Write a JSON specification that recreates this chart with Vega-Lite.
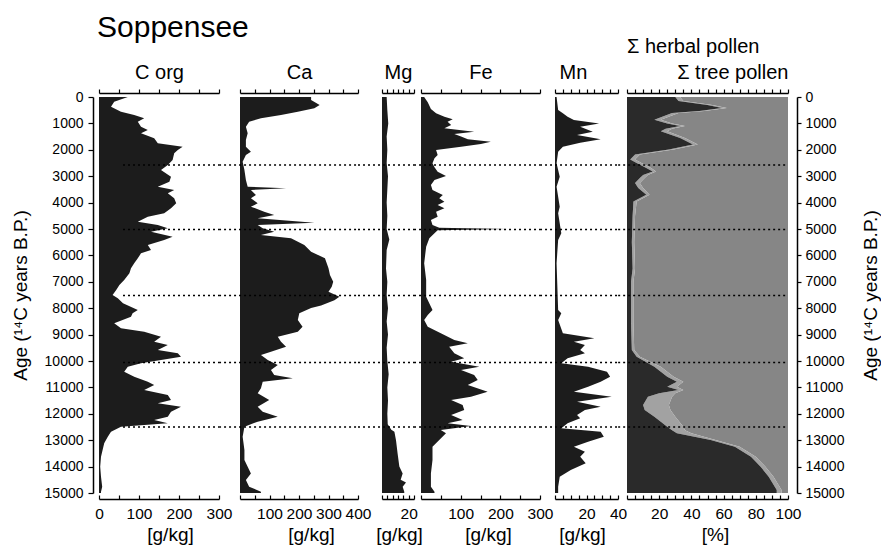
{
  "$schema": "https://vega.github.io/schema/vega-lite/v6.json",
  "padding": {"left": 11, "top": 13, "right": 0, "bottom": 0},
  "background": "white",
  "config": {
    "font": "Liberation Sans",
    "view": {"stroke": null},
    "axis": {"domainColor": "black", "tickColor": "black", "labelColor": "black", "titleColor": "black", "titleFontWeight": "normal", "grid": false, "labelFont": "Liberation Sans", "titleFont": "Liberation Sans", "domainWidth": 1.5, "tickWidth": 1.2, "labelOverlap": false, "labelFlush": false},
    "title": {"fontWeight": "normal", "color": "black", "font": "Liberation Sans"}
  },
  "datasets": {
    "lines": [{"age": 2580}, {"age": 5020}, {"age": 7520}, {"age": 10060}, {"age": 12500}],
    "corg": [
      {"age": 0, "v": 72}, {"age": 177, "v": 38}, {"age": 366, "v": 30}, {"age": 556, "v": 55}, {"age": 682, "v": 88}, {"age": 808, "v": 113}, {"age": 934, "v": 97}, {"age": 1124, "v": 105}, {"age": 1250, "v": 122}, {"age": 1376, "v": 105}, {"age": 1566, "v": 138}, {"age": 1755, "v": 147}, {"age": 1881, "v": 209}, {"age": 2008, "v": 197}, {"age": 2134, "v": 188}, {"age": 2386, "v": 184}, {"age": 2576, "v": 172}, {"age": 2765, "v": 155}, {"age": 3018, "v": 180}, {"age": 3207, "v": 176}, {"age": 3396, "v": 147}, {"age": 3523, "v": 188}, {"age": 3649, "v": 172}, {"age": 3838, "v": 188}, {"age": 4028, "v": 193}, {"age": 4217, "v": 180}, {"age": 4407, "v": 163}, {"age": 4533, "v": 122}, {"age": 4722, "v": 97}, {"age": 4849, "v": 147}, {"age": 4975, "v": 172}, {"age": 5101, "v": 130}, {"age": 5290, "v": 184}, {"age": 5417, "v": 163}, {"age": 5606, "v": 122}, {"age": 5795, "v": 130}, {"age": 5922, "v": 105}, {"age": 6111, "v": 97}, {"age": 6300, "v": 88}, {"age": 6490, "v": 80}, {"age": 6679, "v": 76}, {"age": 6932, "v": 63}, {"age": 7121, "v": 51}, {"age": 7311, "v": 43}, {"age": 7500, "v": 34}, {"age": 7626, "v": 47}, {"age": 7816, "v": 60}, {"age": 8068, "v": 97}, {"age": 8194, "v": 84}, {"age": 8321, "v": 80}, {"age": 8573, "v": 38}, {"age": 8762, "v": 55}, {"age": 8888, "v": 113}, {"age": 9078, "v": 155}, {"age": 9268, "v": 138}, {"age": 9394, "v": 172}, {"age": 9583, "v": 147}, {"age": 9710, "v": 197}, {"age": 9836, "v": 205}, {"age": 9962, "v": 155}, {"age": 10089, "v": 105}, {"age": 10215, "v": 72}, {"age": 10404, "v": 63}, {"age": 10594, "v": 88}, {"age": 10783, "v": 122}, {"age": 10909, "v": 138}, {"age": 11099, "v": 113}, {"age": 11288, "v": 172}, {"age": 11477, "v": 180}, {"age": 11604, "v": 147}, {"age": 11730, "v": 205}, {"age": 11920, "v": 180}, {"age": 12109, "v": 172}, {"age": 12235, "v": 138}, {"age": 12362, "v": 172}, {"age": 12488, "v": 55}, {"age": 12678, "v": 30}, {"age": 12867, "v": 22}, {"age": 13120, "v": 13}, {"age": 13625, "v": 5}, {"age": 14004, "v": 3}, {"age": 14383, "v": 5}, {"age": 14761, "v": 8}, {"age": 14950, "v": 5}, {"age": 15000, "v": 5}
    ],
    "ca": [
      {"age": 0, "v": 241}, {"age": 114, "v": 241}, {"age": 303, "v": 270}, {"age": 429, "v": 252}, {"age": 556, "v": 196}, {"age": 682, "v": 139}, {"age": 808, "v": 71}, {"age": 934, "v": 31}, {"age": 1124, "v": 20}, {"age": 1376, "v": 26}, {"age": 1629, "v": 20}, {"age": 1881, "v": 20}, {"age": 2071, "v": 37}, {"age": 2197, "v": 20}, {"age": 2449, "v": 9}, {"age": 2765, "v": 15}, {"age": 3144, "v": 20}, {"age": 3396, "v": 26}, {"age": 3460, "v": 156}, {"age": 3523, "v": 37}, {"age": 3712, "v": 54}, {"age": 3838, "v": 37}, {"age": 4028, "v": 60}, {"age": 4154, "v": 37}, {"age": 4343, "v": 82}, {"age": 4470, "v": 116}, {"age": 4596, "v": 60}, {"age": 4765, "v": 252}, {"age": 4849, "v": 60}, {"age": 4975, "v": 77}, {"age": 5101, "v": 116}, {"age": 5227, "v": 71}, {"age": 5354, "v": 173}, {"age": 5606, "v": 218}, {"age": 5858, "v": 241}, {"age": 6111, "v": 288}, {"age": 6300, "v": 294}, {"age": 6490, "v": 300}, {"age": 6742, "v": 305}, {"age": 6995, "v": 316}, {"age": 7184, "v": 311}, {"age": 7374, "v": 300}, {"age": 7563, "v": 337}, {"age": 7700, "v": 320}, {"age": 7900, "v": 275}, {"age": 7990, "v": 241}, {"age": 8195, "v": 201}, {"age": 8447, "v": 196}, {"age": 8700, "v": 212}, {"age": 8890, "v": 196}, {"age": 9080, "v": 128}, {"age": 9270, "v": 139}, {"age": 9460, "v": 156}, {"age": 9650, "v": 105}, {"age": 9776, "v": 71}, {"age": 9962, "v": 94}, {"age": 10153, "v": 128}, {"age": 10342, "v": 105}, {"age": 10531, "v": 116}, {"age": 10657, "v": 179}, {"age": 10783, "v": 77}, {"age": 11036, "v": 71}, {"age": 11225, "v": 60}, {"age": 11478, "v": 99}, {"age": 11730, "v": 60}, {"age": 11920, "v": 77}, {"age": 12109, "v": 128}, {"age": 12298, "v": 60}, {"age": 12488, "v": 15}, {"age": 12867, "v": 9}, {"age": 13372, "v": 15}, {"age": 13750, "v": 15}, {"age": 14257, "v": 37}, {"age": 14509, "v": 20}, {"age": 14761, "v": 31}, {"age": 14950, "v": 71}, {"age": 15000, "v": 71}
    ],
    "mg": [
      {"age": 0, "v": 3.5}, {"age": 500, "v": 4}, {"age": 1000, "v": 4.7}, {"age": 1500, "v": 3.5}, {"age": 2000, "v": 4}, {"age": 2500, "v": 3.5}, {"age": 3000, "v": 4.5}, {"age": 3500, "v": 4}, {"age": 4000, "v": 3.5}, {"age": 4500, "v": 4}, {"age": 5000, "v": 3.5}, {"age": 5400, "v": 5.5}, {"age": 5800, "v": 3.5}, {"age": 6500, "v": 3}, {"age": 7000, "v": 4}, {"age": 7500, "v": 3.5}, {"age": 8000, "v": 4.5}, {"age": 8500, "v": 3.5}, {"age": 9000, "v": 4.5}, {"age": 9500, "v": 3.5}, {"age": 10000, "v": 4}, {"age": 10500, "v": 5}, {"age": 11000, "v": 4}, {"age": 11500, "v": 4.5}, {"age": 12000, "v": 4}, {"age": 12400, "v": 4.3}, {"age": 12600, "v": 7}, {"age": 12680, "v": 9.3}, {"age": 13000, "v": 10.5}, {"age": 13500, "v": 11.7}, {"age": 14000, "v": 13}, {"age": 14257, "v": 15.5}, {"age": 14500, "v": 14}, {"age": 14600, "v": 18}, {"age": 14761, "v": 15.5}, {"age": 14950, "v": 16.7}, {"age": 15000, "v": 16.7}
    ],
    "fe": [
      {"age": 0, "v": 8}, {"age": 200, "v": 17}, {"age": 450, "v": 25}, {"age": 620, "v": 38}, {"age": 750, "v": 59}, {"age": 845, "v": 80}, {"age": 934, "v": 67}, {"age": 1060, "v": 76}, {"age": 1187, "v": 59}, {"age": 1313, "v": 134}, {"age": 1400, "v": 84}, {"age": 1500, "v": 101}, {"age": 1600, "v": 118}, {"age": 1692, "v": 176}, {"age": 1780, "v": 151}, {"age": 1881, "v": 101}, {"age": 2008, "v": 38}, {"age": 2197, "v": 42}, {"age": 2323, "v": 34}, {"age": 2512, "v": 29}, {"age": 2664, "v": 34}, {"age": 2828, "v": 42}, {"age": 2990, "v": 63}, {"age": 3144, "v": 34}, {"age": 3333, "v": 25}, {"age": 3523, "v": 29}, {"age": 3712, "v": 55}, {"age": 3838, "v": 46}, {"age": 3964, "v": 59}, {"age": 4091, "v": 42}, {"age": 4217, "v": 59}, {"age": 4343, "v": 38}, {"age": 4533, "v": 42}, {"age": 4659, "v": 25}, {"age": 4849, "v": 29}, {"age": 4950, "v": 46}, {"age": 5000, "v": 218}, {"age": 5050, "v": 42}, {"age": 5164, "v": 34}, {"age": 5354, "v": 21}, {"age": 5669, "v": 13}, {"age": 6300, "v": 8}, {"age": 6932, "v": 13}, {"age": 7563, "v": 13}, {"age": 8068, "v": 29}, {"age": 8257, "v": 17}, {"age": 8447, "v": 8}, {"age": 8700, "v": 17}, {"age": 8952, "v": 50}, {"age": 9205, "v": 84}, {"age": 9331, "v": 118}, {"age": 9457, "v": 71}, {"age": 9710, "v": 84}, {"age": 9900, "v": 109}, {"age": 10025, "v": 76}, {"age": 10215, "v": 147}, {"age": 10342, "v": 101}, {"age": 10531, "v": 134}, {"age": 10720, "v": 143}, {"age": 10909, "v": 118}, {"age": 11162, "v": 168}, {"age": 11351, "v": 126}, {"age": 11477, "v": 76}, {"age": 11667, "v": 105}, {"age": 11856, "v": 109}, {"age": 12046, "v": 76}, {"age": 12235, "v": 105}, {"age": 12362, "v": 67}, {"age": 12462, "v": 126}, {"age": 12614, "v": 50}, {"age": 12740, "v": 63}, {"age": 12993, "v": 46}, {"age": 13246, "v": 29}, {"age": 13750, "v": 29}, {"age": 14257, "v": 25}, {"age": 14761, "v": 25}, {"age": 14950, "v": 34}, {"age": 15000, "v": 34}
    ],
    "mn": [
      {"age": 0, "v": 1}, {"age": 492, "v": 2}, {"age": 620, "v": 5}, {"age": 745, "v": 8}, {"age": 871, "v": 12}, {"age": 1000, "v": 28}, {"age": 1124, "v": 16}, {"age": 1313, "v": 24}, {"age": 1440, "v": 14}, {"age": 1600, "v": 29}, {"age": 1730, "v": 16}, {"age": 1881, "v": 5}, {"age": 2071, "v": 2}, {"age": 2513, "v": 1}, {"age": 3018, "v": 3}, {"age": 3396, "v": 1}, {"age": 4154, "v": 3}, {"age": 4407, "v": 2}, {"age": 5164, "v": 4}, {"age": 5417, "v": 2}, {"age": 6300, "v": 1}, {"age": 8068, "v": 2}, {"age": 8194, "v": 4}, {"age": 8447, "v": 2}, {"age": 8952, "v": 5}, {"age": 9140, "v": 25}, {"age": 9268, "v": 12}, {"age": 9394, "v": 19}, {"age": 9583, "v": 16}, {"age": 9710, "v": 19}, {"age": 9900, "v": 8}, {"age": 10089, "v": 4}, {"age": 10215, "v": 21}, {"age": 10404, "v": 33}, {"age": 10594, "v": 35}, {"age": 10783, "v": 29}, {"age": 10973, "v": 21}, {"age": 11162, "v": 12}, {"age": 11351, "v": 36}, {"age": 11540, "v": 14}, {"age": 11730, "v": 29}, {"age": 11857, "v": 19}, {"age": 12046, "v": 14}, {"age": 12172, "v": 16}, {"age": 12362, "v": 8}, {"age": 12551, "v": 4}, {"age": 12678, "v": 29}, {"age": 12867, "v": 31}, {"age": 13057, "v": 21}, {"age": 13246, "v": 12}, {"age": 13436, "v": 19}, {"age": 13625, "v": 16}, {"age": 13877, "v": 19.5}, {"age": 14130, "v": 10}, {"age": 14383, "v": 3}, {"age": 14761, "v": 2}, {"age": 14950, "v": 2}, {"age": 15000, "v": 2}
    ],
    "pollen": [
      {"age": 0, "h": 30, "t": 33}, {"age": 150, "h": 32, "t": 35}, {"age": 300, "h": 50, "t": 53}, {"age": 420, "h": 59, "t": 62}, {"age": 530, "h": 45, "t": 48}, {"age": 606, "h": 28, "t": 32}, {"age": 860, "h": 17, "t": 21}, {"age": 1000, "h": 25, "t": 28}, {"age": 1100, "h": 33, "t": 36}, {"age": 1200, "h": 24, "t": 28}, {"age": 1300, "h": 21, "t": 25}, {"age": 1550, "h": 33, "t": 36}, {"age": 1800, "h": 41, "t": 44}, {"age": 1990, "h": 26, "t": 29}, {"age": 2180, "h": 5, "t": 8}, {"age": 2370, "h": 2, "t": 5}, {"age": 2500, "h": 6, "t": 9}, {"age": 2690, "h": 12, "t": 15}, {"age": 2820, "h": 16, "t": 18}, {"age": 2950, "h": 10, "t": 13}, {"age": 3070, "h": 8, "t": 11}, {"age": 3260, "h": 5, "t": 8}, {"age": 3450, "h": 7, "t": 10}, {"age": 3700, "h": 12, "t": 14}, {"age": 3960, "h": 4, "t": 6}, {"age": 4500, "h": 3.5, "t": 5}, {"age": 5500, "h": 3, "t": 4.5}, {"age": 6500, "h": 3.5, "t": 5}, {"age": 7000, "h": 2.5, "t": 4}, {"age": 8573, "h": 2.5, "t": 4}, {"age": 9584, "h": 3, "t": 4.5}, {"age": 9836, "h": 6, "t": 8}, {"age": 10215, "h": 17, "t": 21}, {"age": 10594, "h": 25, "t": 29}, {"age": 10783, "h": 31, "t": 35}, {"age": 10973, "h": 25, "t": 31}, {"age": 11099, "h": 32, "t": 35}, {"age": 11225, "h": 20, "t": 30}, {"age": 11351, "h": 13, "t": 28}, {"age": 11667, "h": 10, "t": 26}, {"age": 11857, "h": 11, "t": 27}, {"age": 12109, "h": 17, "t": 30}, {"age": 12488, "h": 25, "t": 35}, {"age": 12620, "h": 28, "t": 36}, {"age": 12740, "h": 31, "t": 40}, {"age": 12993, "h": 52, "t": 55}, {"age": 13246, "h": 67, "t": 70}, {"age": 13624, "h": 77, "t": 80}, {"age": 14003, "h": 83, "t": 86}, {"age": 14382, "h": 88, "t": 91}, {"age": 14887, "h": 93, "t": 96}, {"age": 15000, "h": 93, "t": 96}
    ]
  },
  "hconcat": [
    {
      "width": 120, "height": 396,
      "title": {"text": "Soppensee", "anchor": "start", "frame": "group", "fontSize": 30, "offset": 19, "dx": -2},
      "encoding": {
        "y": {"field": "age", "type": "quantitative", "scale": {"domain": [0, 15000], "reverse": true, "nice": false, "zero": false},
          "axis": {"orient": "left", "values": [0, 1000, 2000, 3000, 4000, 5000, 6000, 7000, 8000, 9000, 10000, 11000, 12000, 13000, 14000, 15000], "tickCount": 16, "format": "d", "labelOverlap": false, "offset": 6, "tickSize": 5, "labelFontSize": 14, "labelPadding": 5, "title": "Age (¹⁴C years B.P.)", "titleFontSize": 19, "titlePadding": 14}}
      },
      "layer": [
        {
          "data": {"name": "corg"},
          "mark": {"type": "area", "orient": "horizontal", "color": "#1c1c1c"},
          "encoding": {
            "x": {"field": "v", "type": "quantitative", "scale": {"domain": [0, 300], "nice": false},
              "axis": {"orient": "bottom", "values": [0, 50, 100, 150, 200, 250, 300], "labelExpr": "datum.value % 100 === 0 ? datum.label : ''", "offset": 6, "tickSize": -4, "labelFontSize": 15.5, "labelPadding": 11, "title": "[g/kg]", "titleFontSize": 19, "titlePadding": 4, "titleX": 71}}
          }
        },
        {
          "data": {"name": "lines"},
          "mark": {"type": "rule", "strokeDash": [2, 3], "strokeWidth": 1.5, "color": "black"},
          "encoding": {
            "x": {"datum": 60, "type": "quantitative", "axis": {"orient": "top", "values": [0, 50, 100, 150, 200, 250, 300], "labels": false, "offset": 4, "tickSize": 4, "title": "C org", "titleFontSize": 20, "titlePadding": 6}},
            "x2": {"datum": 300}
          }
        }
      ],
      "resolve": {"axis": {"x": "independent"}}
    },
    {"width": 21, "height": 396, "data": {"values": []}, "mark": "point"},
    {
      "width": 118, "height": 396,
      "encoding": {"y": {"field": "age", "type": "quantitative", "scale": {"domain": [0, 15000], "reverse": true, "nice": false, "zero": false}, "axis": null}},
      "layer": [
        {
          "data": {"name": "ca"},
          "mark": {"type": "area", "orient": "horizontal", "color": "#1c1c1c"},
          "encoding": {
            "x": {"field": "v", "type": "quantitative", "scale": {"domain": [0, 400], "nice": false},
              "axis": {"orient": "bottom", "values": [0, 50, 100, 150, 200, 250, 300, 350, 400], "labelExpr": "datum.value % 100 === 0 && datum.value > 0 ? datum.label : ''", "offset": 6, "tickSize": -4, "labelFontSize": 15.5, "labelPadding": 11, "title": "[g/kg]", "titleFontSize": 19, "titlePadding": 4, "titleX": 71}}
          }
        },
        {
          "data": {"name": "lines"},
          "mark": {"type": "rule", "strokeDash": [2, 3], "strokeWidth": 1.5, "color": "black"},
          "encoding": {
            "x": {"datum": -71, "type": "quantitative", "axis": {"orient": "top", "values": [0, 50, 100, 150, 200, 250, 300, 350, 400], "labels": false, "offset": 4, "tickSize": 4, "title": "Ca", "titleFontSize": 20, "titlePadding": 6}},
            "x2": {"datum": 400}
          }
        }
      ],
      "resolve": {"axis": {"x": "independent"}}
    },
    {"width": 24, "height": 396, "data": {"values": []}, "mark": "point"},
    {
      "width": 32, "height": 396,
      "encoding": {"y": {"field": "age", "type": "quantitative", "scale": {"domain": [0, 15000], "reverse": true, "nice": false, "zero": false}, "axis": null}},
      "layer": [
        {
          "data": {"name": "mg"},
          "mark": {"type": "area", "orient": "horizontal", "color": "#1c1c1c"},
          "encoding": {
            "x": {"field": "v", "type": "quantitative", "scale": {"domain": [0, 24], "nice": false},
              "axis": {"orient": "bottom", "values": [0, 4, 8, 12, 16, 20, 24], "labelExpr": "datum.value === 20 ? datum.label : ''", "offset": 6, "tickSize": -4, "labelFontSize": 15.5, "labelPadding": 11, "title": "[g/kg]", "titleFontSize": 19, "titlePadding": 4, "titleX": 17}}
          }
        },
        {
          "data": {"name": "lines"},
          "mark": {"type": "rule", "strokeDash": [2, 3], "strokeWidth": 1.5, "color": "black"},
          "encoding": {
            "x": {"datum": -18, "type": "quantitative", "axis": {"orient": "top", "values": [0, 4, 8, 12, 16, 20, 24], "labels": false, "offset": 4, "tickSize": 4, "title": "Mg", "titleFontSize": 20, "titlePadding": 6}},
            "x2": {"datum": 24}
          }
        }
      ],
      "resolve": {"axis": {"x": "independent"}}
    },
    {"width": 7, "height": 396, "data": {"values": []}, "mark": "point"},
    {
      "width": 119, "height": 396,
      "encoding": {"y": {"field": "age", "type": "quantitative", "scale": {"domain": [0, 15000], "reverse": true, "nice": false, "zero": false}, "axis": null}},
      "layer": [
        {
          "data": {"name": "fe"},
          "mark": {"type": "area", "orient": "horizontal", "color": "#1c1c1c"},
          "encoding": {
            "x": {"field": "v", "type": "quantitative", "scale": {"domain": [0, 300], "nice": false},
              "axis": {"orient": "bottom", "values": [0, 50, 100, 150, 200, 250, 300], "labelExpr": "datum.value % 100 === 0 && datum.value > 0 ? datum.label : ''", "offset": 6, "tickSize": -4, "labelFontSize": 15.5, "labelPadding": 11, "title": "[g/kg]", "titleFontSize": 19, "titlePadding": 4, "titleX": 67}}
          }
        },
        {
          "data": {"name": "lines"},
          "mark": {"type": "rule", "strokeDash": [2, 3], "strokeWidth": 1.5, "color": "black"},
          "encoding": {
            "x": {"datum": -17.6, "type": "quantitative", "axis": {"orient": "top", "values": [0, 50, 100, 150, 200, 250, 300], "labels": false, "offset": 4, "tickSize": 4, "title": "Fe", "titleFontSize": 20, "titlePadding": 6}},
            "x2": {"datum": 300}
          }
        }
      ],
      "resolve": {"axis": {"x": "independent"}}
    },
    {"width": 15, "height": 396, "data": {"values": []}, "mark": "point"},
    {
      "width": 63, "height": 396,
      "encoding": {"y": {"field": "age", "type": "quantitative", "scale": {"domain": [0, 15000], "reverse": true, "nice": false, "zero": false}, "axis": null}},
      "layer": [
        {
          "data": {"name": "mn"},
          "mark": {"type": "area", "orient": "horizontal", "color": "#1c1c1c"},
          "encoding": {
            "x": {"field": "v", "type": "quantitative", "scale": {"domain": [0, 40], "nice": false},
              "axis": {"orient": "bottom", "values": [0, 5, 10, 15, 20, 25, 30, 35, 40], "labelExpr": "datum.value === 20 || datum.value === 40 ? datum.label : ''", "offset": 6, "tickSize": -4, "labelFontSize": 15.5, "labelPadding": 11, "title": "[g/kg]", "titleFontSize": 19, "titlePadding": 4, "titleX": 27}}
          }
        },
        {
          "data": {"name": "lines"},
          "mark": {"type": "rule", "strokeDash": [2, 3], "strokeWidth": 1.5, "color": "black"},
          "encoding": {
            "x": {"datum": -9.5, "type": "quantitative", "axis": {"orient": "top", "values": [0, 5, 10, 15, 20, 25, 30, 35, 40], "labels": false, "offset": 4, "tickSize": 4, "title": "Mn", "titleFontSize": 20, "titlePadding": 6, "titleX": 18}},
            "x2": {"datum": 40}
          }
        }
      ],
      "resolve": {"axis": {"x": "independent"}}
    },
    {"width": 9, "height": 396, "data": {"values": []}, "mark": "point"},
    {
      "width": 161, "height": 396,
      "title": {"text": "Σ herbal pollen", "anchor": "start", "frame": "group", "fontSize": 20, "offset": 5},
      "encoding": {
        "y": {"field": "age", "type": "quantitative", "scale": {"domain": [0, 15000], "reverse": true, "nice": false, "zero": false},
          "axis": {"orient": "right", "values": [0, 1000, 2000, 3000, 4000, 5000, 6000, 7000, 8000, 9000, 10000, 11000, 12000, 13000, 14000, 15000], "tickCount": 16, "format": "d", "labelOverlap": false, "offset": 9, "tickSize": 4, "labelFontSize": 14, "labelPadding": 4, "title": "Age (¹⁴C years B.P.)", "titleFontSize": 19, "titlePadding": 37, "titleAngle": 270}}
      },
      "layer": [
        {
          "data": {"name": "pollen"},
          "mark": {"type": "area", "orient": "horizontal", "color": "#868686"},
          "encoding": {
            "x": {"field": "t", "type": "quantitative", "scale": {"domain": [0, 100], "nice": false},
              "axis": {"orient": "bottom", "values": [0, 5, 10, 15, 20, 25, 30, 35, 40, 45, 50, 55, 60, 65, 70, 75, 80, 85, 90, 95, 100], "labelExpr": "datum.value % 20 === 0 && datum.value > 0 ? datum.label : ''", "offset": 6, "tickSize": -4, "labelFontSize": 15.5, "labelPadding": 11, "title": "[%]", "titleFontSize": 19, "titlePadding": 4, "titleX": 88}},
            "x2": {"datum": 100}
          }
        },
        {
          "data": {"name": "pollen"},
          "mark": {"type": "area", "orient": "horizontal", "color": "#a2a2a2"},
          "encoding": {
            "x": {"field": "h", "type": "quantitative", "axis": null},
            "x2": {"field": "t"}
          }
        },
        {
          "data": {"name": "pollen"},
          "mark": {"type": "area", "orient": "horizontal", "color": "#2a2a2a"},
          "encoding": {
            "x": {"field": "h", "type": "quantitative", "axis": null}
          }
        },
        {
          "data": {"name": "lines"},
          "mark": {"type": "rule", "strokeDash": [2, 3], "strokeWidth": 1.5, "color": "black"},
          "encoding": {
            "x": {"datum": -5.5, "type": "quantitative", "axis": {"orient": "top", "values": [0, 5, 10, 15, 20, 25, 30, 35, 40, 45, 50, 55, 60, 65, 70, 75, 80, 85, 90, 95, 100], "labels": false, "offset": 4, "tickSize": 4, "title": "Σ tree pollen", "titleFontSize": 20, "titlePadding": 6, "titleAnchor": "end"}},
            "x2": {"datum": 100}
          }
        }
      ],
      "resolve": {"axis": {"x": "independent"}}
    }
  ],
  "spacing": 0,
  "bounds": "flush"
}
